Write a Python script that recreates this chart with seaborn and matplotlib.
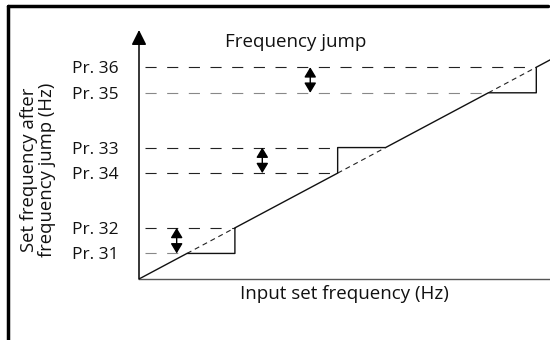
import matplotlib
matplotlib.use("Agg")
import matplotlib.pyplot as plt
from matplotlib.lines import Line2D
import seaborn as sns

# Jump settings (Hz, same scale on both axes)
pr_labels = ["Pr. 31", "Pr. 32", "Pr. 34", "Pr. 33", "Pr. 35", "Pr. 36"]
pr_values = [7, 14, 29, 36, 51, 58]
# where each dashed reference line stops (input frequency)
pr_line_end = [7, 14, 29, 29, 51, 58]
pr_line_color = ["#888888", "#222222", "#222222", "#222222", "#888888", "#222222"]

# output curve (set frequency after the jump)
curve_x = [0, 7, 14, 14, 29, 29, 36, 51, 58, 58, 62]
curve_y = [0, 7, 7, 14, 29, 36, 36, 51, 51, 58, 62]

# jump bands: (low, high) and where the double arrow sits
jump_bands = [(7, 14), (29, 36), (51, 58)]
jump_arrow_x = [5.5, 18, 25]

sns.set_theme(style="white")
plt.rcParams["font.family"] = ["Open Sans", "DejaVu Sans"]

fig = plt.figure(figsize=(5.5, 3.4), dpi=100)
ax = fig.add_axes([139 / 550, 61 / 340, 411 / 550, 249 / 340])
ax.set_xlim(0, 60)
ax.set_ylim(0, 68.2)

# dashed reference lines for each parameter
for val, end, col in zip(pr_values, pr_line_end, pr_line_color):
    sns.lineplot(x=[0.9, end], y=[val, val], ax=ax, color=col, lw=0.8,
                 linestyle=(0, (10, 9.5)), estimator=None, sort=False)

# dashed diagonal through each jump band
for lo, hi in jump_bands:
    sns.lineplot(x=[lo, hi], y=[lo, hi], ax=ax, color="#222222", lw=0.8,
                 linestyle=(0, (4.5, 3.5)), estimator=None, sort=False)

# the actual output curve
sns.lineplot(x=curve_x, y=curve_y, ax=ax, color="#111111", lw=1.0,
             estimator=None, sort=False)

# double arrows marking each jump width
for (lo, hi), ax_x in zip(jump_bands, jump_arrow_x):
    ax.annotate("", xy=(ax_x, hi), xytext=(ax_x, lo),
                arrowprops=dict(arrowstyle="<|-|>,head_length=0.5,head_width=0.3",
                                color="black", lw=1.0, mutation_scale=12,
                                shrinkA=0, shrinkB=0))

# y axis drawn as an arrow
ax.annotate("", xy=(0, 1.0), xytext=(0, 0), xycoords="axes fraction",
            arrowprops=dict(arrowstyle="-|>,head_length=0.6,head_width=0.3",
                            color="black", lw=1.1, mutation_scale=15,
                            shrinkA=0, shrinkB=0))

sns.despine(ax=ax, top=True, right=True, left=True)
ax.spines["bottom"].set_color("#555555")
ax.spines["bottom"].set_linewidth(1.0)

ax.set_xticks([])
ax.set_yticks(pr_values)
ax.set_yticklabels(pr_labels, fontsize=12.5, color="#111111")
ax.tick_params(axis="y", length=0, pad=15)

ax.set_xlabel("Input set frequency (Hz)", fontsize=13.5, color="#111111", labelpad=4)
fig.text(38 / 550, 170 / 340, "Set frequency after\nfrequency jump (Hz)",
         rotation=90, ha="center", va="center", multialignment="center",
         fontsize=13.3, color="#111111", linespacing=1.05)
ax.text(0.381, 0.952, "Frequency jump", transform=ax.transAxes,
        ha="center", va="center", fontsize=13.5, color="#111111")

# frame around the figure (top and left edges only are visible)
fig.add_artist(Line2D([8 / 550, 548 / 550], [334 / 340, 334 / 340],
                      transform=fig.transFigure, color="black", lw=2.5))
fig.add_artist(Line2D([8 / 550, 8 / 550], [0, 334 / 340],
                      transform=fig.transFigure, color="black", lw=2.5))

fig.savefig("out.png", dpi=100)
